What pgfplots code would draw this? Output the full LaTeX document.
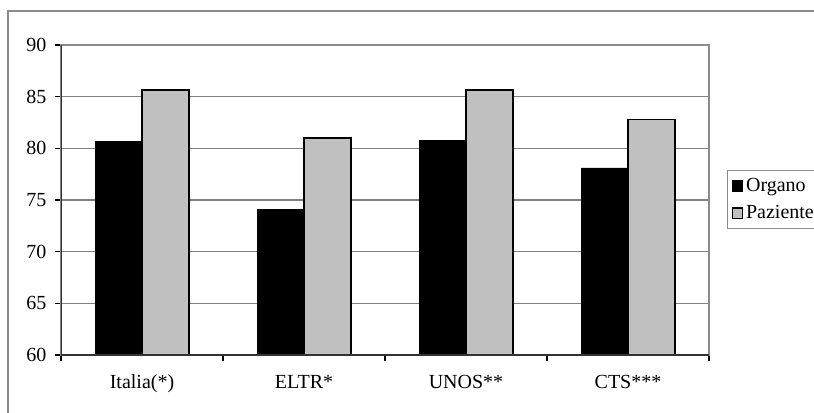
\documentclass[border=0pt]{standalone}
\usepackage{pgfplots}
\pgfplotsset{compat=1.18}
\usepackage{fontspec}
\setmainfont{Liberation Serif}

\definecolor{barGray}{RGB}{192,192,192}
\definecolor{gridGray}{RGB}{128,128,128}
\definecolor{frameGray}{RGB}{140,140,140}

% survival rates (%) by registry: organ and patient
\pgfplotstableread{
idx organo paziente
0   80.7   85.65
1   74.1   81.0
2   80.8   85.65
3   78.1   82.8
}\survival

\begin{document}
\begin{tikzpicture}
\useasboundingbox (0,0) rectangle (610.5pt,309pt);
% chart area border
\draw[frameGray, line width=0.9pt] (6pt,-20pt) -- (6pt,300.75pt) -- (640pt,300.75pt);
\begin{axis}[
  at={(45.75pt,42.75pt)}, anchor=south west,
  scale only axis, width=486pt, height=232.5pt,
  ybar=0pt, bar width=0.29,
  xmin=-0.5, xmax=3.5, ymin=60, ymax=90,
  xtick={0,1,2,3},
  xticklabels={Italia(*),ELTR*,UNOS**,CTS***},
  minor xtick={-0.5,0.5,1.5,2.5,3.5},
  ytick={60,65,...,90},
  xtick pos=bottom, ytick pos=left,
  ymajorgrids,
  grid style={gridGray, line width=0.9pt},
  axis line style={frameGray, line width=0.9pt},
  tick align=outside,
  major x tick style={draw=none},
  minor x tick style={black, line width=0.9pt},
  minor tick length=4.5pt,
  major y tick style={black, line width=0.9pt},
  major tick length=4.5pt,
  /pgf/number format/assume math mode=true,
  tick label style={font=\fontsize{15}{18}\selectfont},
  xticklabel style={yshift=-7pt},
  yticklabel style={xshift=-3pt},
  legend style={at={(1.0278,0.597)}, anchor=north west,
    draw=frameGray, line width=0.8pt,
    font=\fontsize{15}{18}\selectfont,
    row sep=5pt, inner xsep=3pt, inner ysep=4pt},
  legend cell align=left,
  legend image code/.code={%
    \draw[#1, line width=0.9pt] (0pt,-4pt) rectangle (8pt,4pt);},
]
\addplot[fill=black, draw=black, bar shift=-0.145] table[x=idx, y=organo] {\survival};
\addlegendentry{Organo}
\addplot[fill=barGray, draw=black, line width=1.3pt, bar shift=0.145] table[x=idx, y=paziente] {\survival};
\addlegendentry{Paziente}
% darker left and bottom axis lines
\draw[black!80, line width=1.1pt] (rel axis cs:0,1) -- (rel axis cs:0,0) -- (rel axis cs:1,0);
\end{axis}
\end{tikzpicture}
\end{document}
